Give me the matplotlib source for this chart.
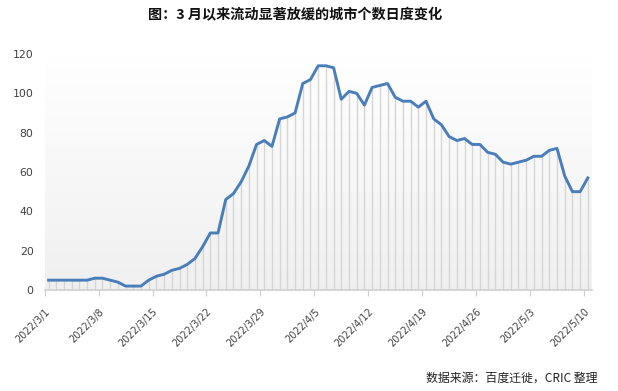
import matplotlib
matplotlib.use("Agg")
import matplotlib.pyplot as plt
import numpy as np

plt.rcParams['font.family'] = ['Noto Sans CJK SC', 'DejaVu Sans']

title = "图：3 月以来流动显著放缓的城市个数日度变化"
source = "数据来源：百度迁徙，CRIC 整理"

# daily values, 2022/3/1 .. 2022/5/10
values = [5, 5, 5, 5, 5, 5, 6, 6, 5, 4,
          2, 2, 2, 5, 7, 8, 10, 11, 13, 16,
          22, 29, 29, 46, 49, 55, 63, 74, 76, 73,
          87, 88, 90, 105, 107, 114, 114, 113, 97, 101,
          100, 94, 103, 104, 105, 98, 96, 96, 93, 96,
          87, 84, 78, 76, 77, 74, 74, 70, 69, 65,
          64, 65, 66, 68, 68, 71, 72, 58, 50, 50,
          57]
tick_labels = ["2022/3/1", "2022/3/8", "2022/3/15", "2022/3/22", "2022/3/29",
               "2022/4/5", "2022/4/12", "2022/4/19", "2022/4/26", "2022/5/3",
               "2022/5/10"]
tick_step = 7
y_ticks = [0, 20, 40, 60, 80, 100, 120]

n = len(values)
x = np.arange(n) + 0.5

fig = plt.figure(figsize=(6.18, 3.91), dpi=100)
ax = fig.add_axes([0.0723, 0.2583, 0.8851, 0.6036])

# gradient background
grad = np.linspace(1.0, 0.94, 256).reshape(-1, 1)
ax.imshow(np.dstack([grad, grad, grad]), aspect='auto', extent=[0, n, 0, 120],
          origin='upper', zorder=0, interpolation='bilinear')

ax.vlines(x, 0, values, colors='#d6d6d6', linewidth=1.0, zorder=1)
ax.plot(x, values, color='#4a7ebb', linewidth=2.1, zorder=3, solid_joinstyle='round')

ax.set_xlim(0, n)
ax.set_ylim(0, 120)
ax.set_yticks(y_ticks)
ax.set_yticklabels([str(v) for v in y_ticks], fontsize=7.8, color='#404040',
                   family='DejaVu Sans')
ax.tick_params(axis='y', length=0, pad=8)

ticks = np.arange(0, n, tick_step)
ax.set_xticks(ticks)
ax.set_xticklabels(tick_labels, rotation=45, ha='right', rotation_mode='anchor',
                   fontsize=7.0, color='#404040', family='DejaVu Sans')
for lbl in ax.get_xticklabels():
    lbl.set_transform(lbl.get_transform() +
                      matplotlib.transforms.ScaledTranslation(0.05, -0.07, fig.dpi_scale_trans))
ax.tick_params(axis='x', length=4, color='#d0d0d0', pad=8)

for s in ['top', 'right', 'left']:
    ax.spines[s].set_visible(False)
ax.spines['bottom'].set_color('#d0d0d0')
ax.spines['bottom'].set_linewidth(1.2)

fig.text(0.477, 0.962, title, ha='center', va='center', fontsize=10.2,
         fontweight='bold', color='#111111')
fig.text(0.967, 0.033, source, ha='right', va='center', fontsize=8.6, color='#222222')

fig.savefig("out.png", dpi=100)
